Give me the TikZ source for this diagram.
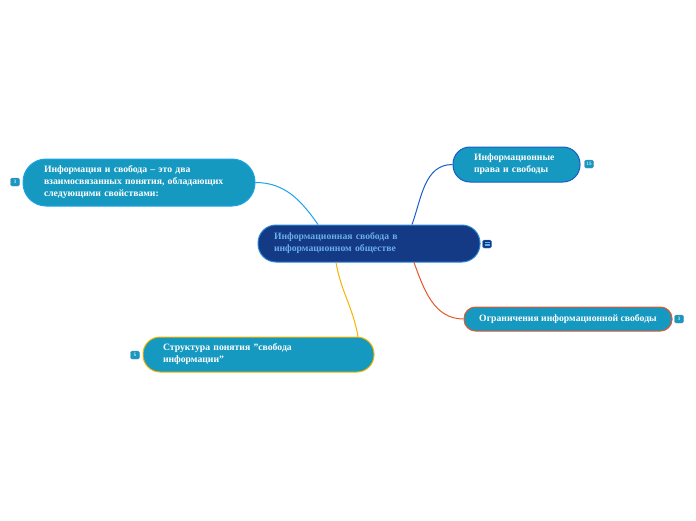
\documentclass[tikz,border=0pt]{standalone}
\usepackage{fontspec}
\setmainfont{Liberation Serif}
\usepackage{xcolor}
\usetikzlibrary{positioning}

\definecolor{topicfill}{HTML}{1599C0}
\definecolor{rootfill}{HTML}{143A85}
\definecolor{rootline}{HTML}{2A86D6}
\definecolor{roottext}{HTML}{6AAEEA}
\definecolor{linkcyan}{HTML}{1DA3E8}
\definecolor{linkblue}{HTML}{1A5CC8}
\definecolor{linkred}{HTML}{E8562A}
\definecolor{linkyellow}{HTML}{F5B400}

\begin{document}
\begin{tikzpicture}[x=1pt,y=-1pt,
topic/.style={draw,line width=1pt,fill=topicfill,text=white,align=left,inner ysep=0pt,font=\fontsize{9.7}{12}\selectfont\bfseries},
root/.style={draw=rootline,line width=1pt,fill=rootfill,text=roottext,align=left,inner ysep=0pt,font=\fontsize{9.7}{12}\selectfont\bfseries},
badge/.style={draw=rootfill!60,fill=topicfill,rounded corners=1.5pt,text=white,inner sep=0.8pt,minimum width=9pt,minimum height=8pt,font=\fontsize{5}{5}\selectfont\sffamily},
lnk/.style={line width=1pt}]
\useasboundingbox (0,0) rectangle (696,520);

% root and main topics
\node[root,text width=190pt,inner xsep=16pt,minimum height=37pt,rounded corners=18pt] (c) at (369,243.5) {Информационная свобода в\\информационном обществе};
\node[topic,draw=linkcyan,text width=190pt,inner xsep=21pt,minimum height=47pt,rounded corners=23pt] (lt) at (139,182.5) {Информация и свобода -- это два\\взаимосвязанных понятия, обладающих\\следующими свойствами:};
\node[topic,draw=linkblue,text width=85pt,inner xsep=21pt,minimum height=35pt,rounded corners=17pt] (rt) at (516.5,164.5) {Информационные\\права и свободы};
\node[topic,draw=linkred,align=center,minimum width=208pt,minimum height=24pt,rounded corners=11.5pt] (rb) at (568,319) {Ограничения информационной свободы};
\node[topic,draw=linkyellow,text width=191pt,inner xsep=20pt,minimum height=35pt,rounded corners=17pt] (bt) at (258.5,354.5) {Структура понятия \symbol{34}свобода\\информации\symbol{34}};

% badges
\node[badge] (ltn) at (15,182) {3};
\node[badge] (rtn) at (589,164) {15};
\node[badge] (rbn) at (679,319) {3};
\node[badge] (btn) at (135,355) {5};
\node[badge,fill=rootfill,draw=rootline] (cn) at (487,244) {};
\foreach \dy in {-1.6,0,1.6} \draw[roottext,line width=0.6pt] ([xshift=-2.5pt,yshift=\dy pt]cn.center) -- ([xshift=2.5pt,yshift=\dy pt]cn.center);

% links
\draw[lnk,linkcyan] (lt.east) to[out=0,in=125] ([xshift=-51pt]c.north);
\draw[lnk,linkblue] ([xshift=43pt]c.north) to[out=70,in=180] (rt.west);
\draw[lnk,linkred] ([xshift=45pt]c.south) to[out=-70,in=180] (rb.west);
\draw[lnk,linkyellow] ([xshift=-33pt]c.south) to[out=-80,in=100] ([xshift=99.5pt]bt.north);
\end{tikzpicture}
\end{document}
